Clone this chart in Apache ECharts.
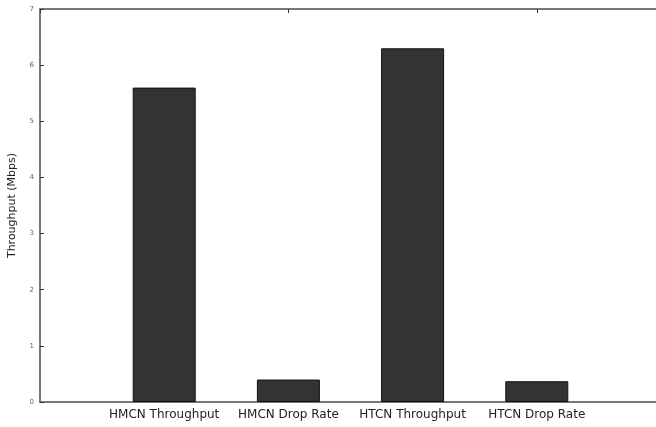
<!DOCTYPE html>
<html>
<head>
<meta charset="utf-8">
<script src="https://cdn.jsdelivr.net/npm/echarts@6/dist/echarts.min.js"></script>
<style>html,body{margin:0;padding:0;background:#fff;}#c{width:656px;height:427px;}</style>
</head>
<body>
<div id="c"></div>
<script>
const categories = ['HMCN Throughput', 'HMCN Drop Rate', 'HTCN Throughput', 'HTCN Drop Rate'];
const values = [5.6, 0.4, 6.3, 0.37];
const yTicks = [0, 1, 2, 3, 4, 5, 6, 7];

const padCats = [''].concat(categories, ['']);
const padVals = [null].concat(values, [null]);

const chart = echarts.init(document.getElementById('c'));
chart.setOption({
  animation: false,
  backgroundColor: '#fff',
  grid: { left: 40, top: 9, width: 621, height: 393, outerBoundsMode: 'none', containLabel: false },
  xAxis: [{
    type: 'category', data: padCats, boundaryGap: false, position: 'bottom',
    axisLine: { lineStyle: { color: '#777', width: 2 } },
    axisTick: { show: false },
    axisLabel: { color: '#222', fontSize: 12, fontFamily: 'DejaVu Sans', margin: 7, interval: 0 }
  }, {
    type: 'category', data: padCats, boundaryGap: false, position: 'top',
    axisLine: { lineStyle: { color: '#777', width: 2 } },
    axisTick: { show: true, inside: true, length: 4, lineStyle: { color: '#333' } },
    axisLabel: { show: false }
  }],
  yAxis: {
    type: 'value', min: yTicks[0], max: yTicks[yTicks.length - 1], interval: 1,
    name: 'Throughput (Mbps)', nameLocation: 'middle', nameGap: 22, nameRotate: 90,
    nameTextStyle: { color: '#222', fontSize: 11, fontFamily: 'DejaVu Sans' },
    axisLine: { show: true, lineStyle: { color: '#777', width: 2 } },
    axisTick: { show: true, inside: true, length: 4, lineStyle: { color: '#333' } },
    axisLabel: { color: '#666', fontSize: 7, fontFamily: 'DejaVu Sans', margin: 6 },
    splitLine: { show: false }
  },
  series: [{
    type: 'bar', data: padVals, barWidth: 63, xAxisIndex: 0,
    itemStyle: { color: '#333', borderColor: '#111', borderWidth: 1 }
  }]
});
</script>
</body>
</html>
